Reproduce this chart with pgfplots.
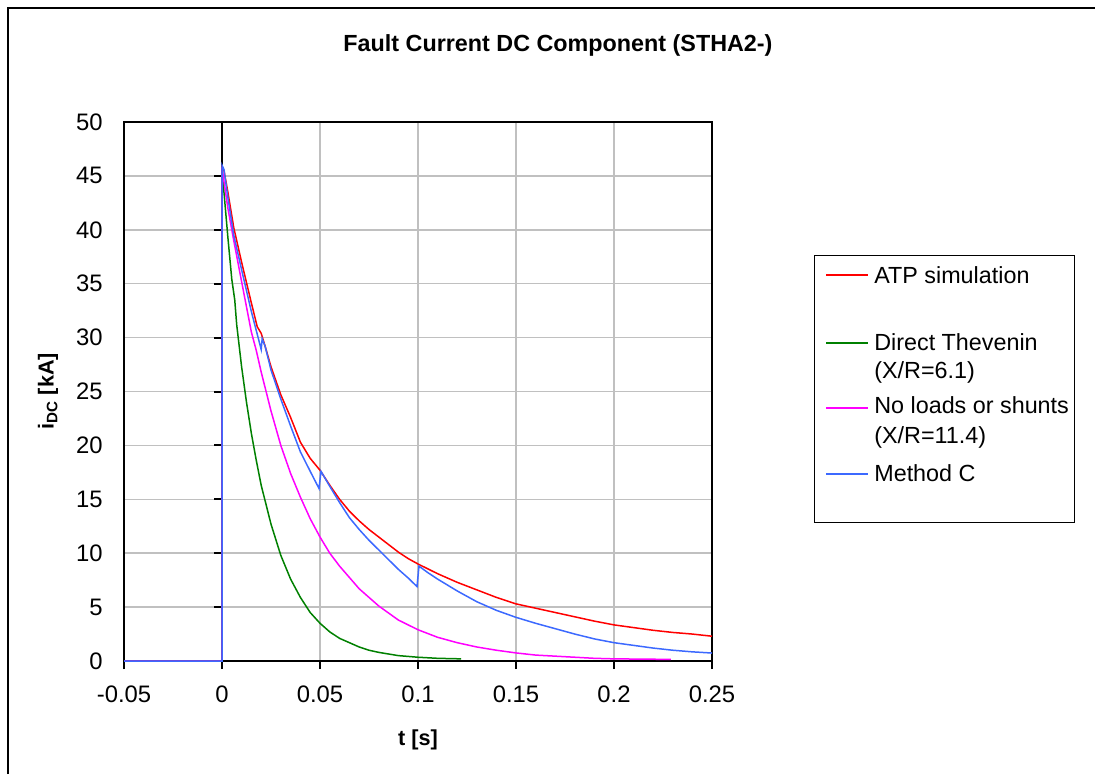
\documentclass[border=0pt]{standalone}
\usepackage{pgfplots}
\pgfplotsset{compat=1.18}
\usepackage{fontspec}
\setmainfont{Liberation Sans}
\definecolor{cred}{RGB}{255,0,0}
\definecolor{cgreen}{RGB}{0,128,0}
\definecolor{cmag}{RGB}{255,0,255}
\definecolor{cblue}{RGB}{60,105,255}
\definecolor{cgrid}{RGB}{192,192,192}
\begin{document}
\begin{tikzpicture}
\def\u{0.6pt}
\useasboundingbox (0,0) rectangle (1095*\u,-774*\u);
\draw[line width=1.2pt] (8*\u,-774*\u) -- (8*\u,-8*\u) -- (1095*\u,-8*\u);
\node[font=\fontsize{14}{16}\selectfont\bfseries] at (558*\u,-45*\u) {Fault Current DC Component (STHA2-)};
\begin{axis}[
  at={(124*\u,-661*\u)}, anchor=south west,
  scale only axis, width=352.8pt, height=323.4pt,
  xmin=-0.05, xmax=0.25, ymin=0, ymax=50,
  clip=false,
  axis line style={line width=1.2pt},
  xtick={-0.05,0,0.05,0.1,0.15,0.2,0.25},
  xticklabels={-0.05,0,0.05,0.1,0.15,0.2,0.25},
  ytick={0,5,10,15,20,25,30,35,40,45,50},
  yticklabels={0,5,10,15,20,25,30,35,40,45,50},
  xtick pos=bottom, ytick pos=left,
  x tick style={line width=1.2pt, black},
  y tick style={draw=none},
  xtick align=outside,
  major tick length=4.8pt,
  grid=major,
  major grid style={cgrid, line width=0.9pt},
  ticklabel style={font=\fontsize{14.3}{16}\selectfont},
  xticklabel style={inner sep=0pt, anchor=north, yshift=-10pt},
  yticklabel style={inner sep=0pt, anchor=east, xshift=-12.6pt},
  xlabel={t [s]},
  ylabel={i\textsubscript{DC} [kA]},
  xlabel style={at={(rel axis cs:0.5,0)}, anchor=center, yshift=-47.4pt, font=\fontsize{13}{15}\selectfont\bfseries},
  ylabel style={at={(rel axis cs:0,0.5)}, anchor=center, yshift=45.6pt, font=\fontsize{13}{15}\selectfont\bfseries},
  every axis plot/.append style={line width=0.9pt, mark=none},
]
\draw[line width=1.2pt] (axis cs:0,0) -- (axis cs:0,50);
\pgfplotsinvokeforeach{0,5,...,50}{\draw[line width=1.2pt] (axis cs:0,#1) -- ++(-4.8pt,0pt);}
% ATP simulation
\addplot[cred] coordinates {(-0.05,0)(0,0)(0,45.8)(0.001,45.5)(0.003,43.5)(0.006,40.2)(0.01,37.0)(0.015,33.2)(0.018,31.0)(0.02,30.4)(0.022,29.2)(0.025,27.3)(0.03,24.7)(0.035,22.6)(0.04,20.3)(0.045,18.8)(0.05,17.7)(0.055,16.3)(0.06,15.0)(0.065,13.9)(0.07,13.0)(0.075,12.2)(0.08,11.5)(0.085,10.8)(0.09,10.1)(0.095,9.5)(0.1,9.0)(0.11,8.1)(0.12,7.3)(0.13,6.6)(0.14,5.9)(0.15,5.3)(0.16,4.9)(0.17,4.5)(0.18,4.1)(0.19,3.7)(0.2,3.35)(0.21,3.1)(0.22,2.85)(0.23,2.65)(0.24,2.5)(0.25,2.3)};
% Direct Thevenin
\addplot[cgreen] coordinates {(-0.05,0)(0,0)(0,45.5)(0.001,43.5)(0.003,39.3)(0.005,35.4)(0.0065,33.5)(0.0075,31.2)(0.01,27.3)(0.0125,24.0)(0.015,21.1)(0.0175,18.6)(0.02,16.3)(0.025,12.7)(0.03,9.8)(0.035,7.6)(0.04,5.9)(0.045,4.5)(0.05,3.5)(0.055,2.7)(0.06,2.1)(0.065,1.7)(0.07,1.3)(0.075,1.0)(0.08,0.8)(0.09,0.5)(0.1,0.35)(0.11,0.25)(0.122,0.2)};
% No loads or shunts
\addplot[cmag] coordinates {(-0.05,0)(0,0)(0,45.8)(0.001,44.5)(0.003,42.0)(0.006,39.0)(0.01,35.2)(0.015,30.5)(0.0175,28.8)(0.02,26.8)(0.025,23.2)(0.03,20.0)(0.035,17.4)(0.04,15.2)(0.045,13.2)(0.05,11.5)(0.055,10.0)(0.06,8.8)(0.07,6.7)(0.08,5.1)(0.09,3.8)(0.1,2.9)(0.11,2.2)(0.12,1.7)(0.13,1.3)(0.14,1.0)(0.15,0.75)(0.16,0.55)(0.17,0.45)(0.18,0.35)(0.19,0.25)(0.2,0.2)(0.229,0.15)};
% Method C
\addplot[cblue] coordinates {(-0.05,0)(0,0)(0,46.0)(0.001,45.6)(0.003,43.0)(0.006,39.5)(0.01,36.3)(0.015,32.4)(0.02,28.9)(0.0205,29.9)(0.022,29.2)(0.025,27.0)(0.03,24.3)(0.035,21.8)(0.04,19.4)(0.045,17.6)(0.0495,16.0)(0.0505,17.6)(0.055,16.2)(0.06,14.7)(0.065,13.3)(0.07,12.2)(0.075,11.2)(0.08,10.3)(0.085,9.4)(0.09,8.5)(0.095,7.7)(0.0995,6.9)(0.1005,8.8)(0.105,8.2)(0.11,7.6)(0.12,6.5)(0.13,5.5)(0.14,4.7)(0.15,4.05)(0.16,3.5)(0.17,3.0)(0.18,2.5)(0.19,2.05)(0.2,1.7)(0.21,1.45)(0.22,1.2)(0.23,1.0)(0.24,0.85)(0.25,0.74)};
\end{axis}
% legend
\draw[line width=0.6pt] (814*\u,-255*\u) rectangle (1074*\u,-522*\u);
\begin{scope}[every node/.style={font=\fontsize{14}{16}\selectfont, inner sep=0pt, anchor=base west}]
\draw[cred, line width=0.9pt] (826*\u,-275*\u) -- (868*\u,-275*\u);
\node at (874*\u,-283*\u) {ATP simulation};
\draw[cgreen, line width=0.9pt] (826*\u,-343*\u) -- (868*\u,-343*\u);
\node at (874*\u,-350*\u) {Direct Thevenin};
\node at (874*\u,-378*\u) {(X/R=6.1)};
\draw[cmag, line width=0.9pt] (826*\u,-408*\u) -- (868*\u,-408*\u);
\node at (874*\u,-413*\u) {No loads or shunts};
\node at (874*\u,-443*\u) {(X/R=11.4)};
\draw[cblue, line width=0.9pt] (826*\u,-474*\u) -- (868*\u,-474*\u);
\node at (874*\u,-481*\u) {Method C};
\end{scope}
\end{tikzpicture}
\end{document}
